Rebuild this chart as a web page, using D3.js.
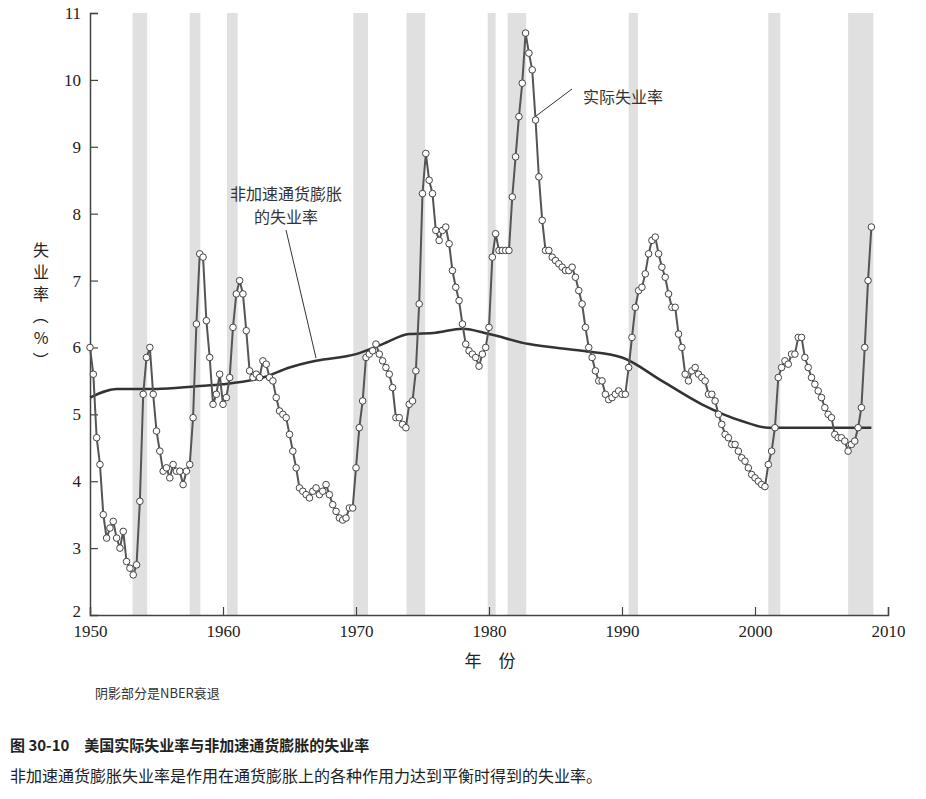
<!DOCTYPE html>
<html><head><meta charset="utf-8">
<script src="https://cdn.jsdelivr.net/npm/d3@7"></script>
<style>body{margin:0;background:#fff}</style>
</head><body><div id="chart"></div>
<script>
// quarterly unemployment rate, 1950Q1 .. 2008Q4
const startYear = 1950;
const unemp = [
  6.0,5.6,4.65,4.25, 3.5,3.15,3.3,3.4, 3.15,3.0,3.25,2.8, 2.7,2.6,2.75,3.7,
  5.3,5.85,6.0,5.3, 4.75,4.45,4.15,4.2, 4.05,4.25,4.15,4.15, 3.95,4.15,4.25,4.95,
  6.35,7.4,7.35,6.4, 5.85,5.15,5.3,5.6, 5.15,5.25,5.55,6.3, 6.8,7.0,6.8,6.25,
  5.65,5.55,5.6,5.55, 5.8,5.75,5.55,5.5, 5.25,5.05,5.0,4.95, 4.7,4.45,4.2,3.9,
  3.85,3.8,3.75,3.85, 3.9,3.8,3.85,3.95, 3.8,3.65,3.55,3.45, 3.42,3.45,3.6,3.6,
  4.2,4.8,5.2,5.85, 5.9,5.95,6.05,5.9, 5.8,5.7,5.6,5.4, 4.95,4.95,4.85,4.8,
  5.15,5.2,5.65,6.65, 8.3,8.9,8.5,8.3, 7.75,7.6,7.75,7.8, 7.55,7.15,6.9,6.7,
  6.35,6.05,5.95,5.9, 5.85,5.72,5.9,6.0, 6.3,7.35,7.7,7.45, 7.45,7.45,7.45,8.25,
  8.85,9.45,9.95,10.7, 10.4,10.15,9.4,8.55, 7.9,7.45,7.45,7.35, 7.3,7.25,7.2,7.15,
  7.15,7.2,7.05,6.85, 6.65,6.3,6.0,5.85, 5.65,5.5,5.5,5.3, 5.22,5.25,5.3,5.35,
  5.3,5.3,5.7,6.15, 6.6,6.85,6.9,7.1, 7.4,7.6,7.65,7.4, 7.2,7.05,6.8,6.6,
  6.6,6.2,6.0,5.6, 5.5,5.65,5.7,5.6, 5.55,5.5,5.3,5.3, 5.2,5.0,4.85,4.7,
  4.65,4.55,4.55,4.45, 4.35,4.3,4.2,4.1, 4.05,4.0,3.95,3.92, 4.25,4.45,4.8,5.55,
  5.7,5.8,5.75,5.9, 5.9,6.15,6.15,5.85, 5.7,5.55,5.45,5.35, 5.25,5.1,5.0,4.95,
  4.7,4.65,4.65,4.6, 4.45,4.55,4.6,4.8, 5.1,6.0,7.0,7.8
];
const nairuYears = [1950,1952,1955,1958,1960,1963,1965,1967,1970,1972,1974,1976,1978,1980,1983,1987,1990,1993,1996,1999,2001,2008.75];
const nairu =      [5.25,5.38,5.38,5.42,5.45,5.55,5.7,5.8,5.9,6.05,6.2,6.22,6.28,6.2,6.05,5.95,5.85,5.5,5.15,4.9,4.8,4.8];
const recessions = [[1953.2,1954.3],[1957.5,1958.3],[1960.3,1961.1],[1969.8,1970.9],[1973.8,1975.2],
                    [1979.9,1980.5],[1981.4,1982.8],[1990.5,1991.2],[2001.0,2001.9],[2007.0,2008.9]];
const xTicks = [1950,1960,1970,1980,1990,2000,2010];
const yTicks = d3.range(2, 12);

const width = 926, height = 799;
const svg = d3.select("#chart").append("svg").attr("width", width).attr("height", height)
  .style("font-family", "'Liberation Serif', serif");

const x = d3.scaleLinear().domain([1950, 2010]).range([90, 888]);
const y = d3.scaleLinear().domain([2, 11]).range([615, 13]);

// recession shading
svg.selectAll("rect.rec").data(recessions).enter().append("rect")
  .attr("x", d => x(d[0])).attr("width", d => x(d[1]) - x(d[0]))
  .attr("y", y(11)).attr("height", y(2) - y(11))
  .attr("fill", "#e0e0e0");

// axes
const gx = svg.append("g").attr("transform", "translate(0," + y(2) + ")")
  .call(d3.axisBottom(x).tickValues(xTicks).tickFormat(d3.format("d")).tickSize(-8).tickPadding(10));
const gy = svg.append("g").attr("transform", "translate(" + x(1950) + ",0)")
  .call(d3.axisLeft(y).tickValues(yTicks).tickSize(-8).tickPadding(9));
[gx, gy].forEach(g => {
  g.select(".domain").attr("stroke", "#444").attr("stroke-width", 1.5);
  g.selectAll(".tick line").attr("stroke", "#444").attr("stroke-width", 1.2);
  g.selectAll("text").attr("font-size", 17).attr("fill", "#222").style("font-family", "'Liberation Serif', serif");
});
gy.select(".tick:first-of-type line").remove();
gy.select(".tick:first-of-type text").attr("dy", "0.1em");
gx.select(".tick:first-of-type line").remove();

// NAIRU line
svg.append("path").datum(nairuYears.map((d, i) => [d, nairu[i]]))
  .attr("d", d3.line().x(d => x(d[0])).y(d => y(d[1])).curve(d3.curveMonotoneX))
  .attr("fill", "none").attr("stroke", "#333").attr("stroke-width", 2.5);

// actual unemployment
const pts = unemp.map((v, i) => [startYear + i * 0.25, v]);
svg.append("path").datum(pts)
  .attr("d", d3.line().x(d => x(d[0])).y(d => y(d[1])))
  .attr("fill", "none").attr("stroke", "#555").attr("stroke-width", 2);
svg.selectAll("circle.pt").data(pts).enter().append("circle")
  .attr("cx", d => x(d[0])).attr("cy", d => y(d[1])).attr("r", 3.3)
  .attr("fill", "#fff").attr("stroke", "#444").attr("stroke-width", 1);

// annotations
const cjk = "'Noto Sans CJK SC', sans-serif";
svg.append("line").attr("x1", 286).attr("y1", 230).attr("x2", 316).attr("y2", 358)
  .attr("stroke", "#333").attr("stroke-width", 1);
svg.append("text").attr("x", 286).attr("y", 200).attr("text-anchor", "middle")
  .style("font-family", cjk).attr("font-size", 16).attr("fill", "#333").text("非加速通货膨胀");
svg.append("text").attr("x", 286).attr("y", 223).attr("text-anchor", "middle")
  .style("font-family", cjk).attr("font-size", 16).attr("fill", "#333").text("的失业率");
svg.append("line").attr("x1", 572).attr("y1", 89).attr("x2", 536).attr("y2", 116)
  .attr("stroke", "#333").attr("stroke-width", 1);
svg.append("text").attr("x", 583).attr("y", 103)
  .style("font-family", cjk).attr("font-size", 16).attr("fill", "#333").text("实际失业率");

// axis titles
svg.append("text").attr("x", 490).attr("y", 667).attr("text-anchor", "middle")
  .style("font-family", cjk).attr("font-size", 17).attr("fill", "#222").text("年　份");
["失", "业", "率", "（", "%", "）"].forEach((c, i) => {
  svg.append("text").attr("x", 41).attr("y", 256 + i * 22).attr("text-anchor", "middle")
    .style("font-family", cjk).attr("font-size", 16).attr("fill", "#222")
    .attr("transform", (c === "（" || c === "）") ? "rotate(90,41," + (250 + i * 22) + ")" : null)
    .text(c);
});

// captions
svg.append("text").attr("x", 95).attr("y", 698)
  .style("font-family", cjk).attr("font-size", 13).attr("fill", "#333").text("阴影部分是NBER衰退");
svg.append("text").attr("x", 10).attr("y", 751)
  .style("font-family", cjk).attr("font-size", 15).attr("font-weight", "bold").attr("fill", "#222")
  .text("图 30-10　美国实际失业率与非加速通货膨胀的失业率");
svg.append("text").attr("x", 10).attr("y", 782)
  .style("font-family", cjk).attr("font-size", 16).attr("fill", "#222")
  .text("非加速通货膨胀失业率是作用在通货膨胀上的各种作用力达到平衡时得到的失业率。");
</script></body></html>
